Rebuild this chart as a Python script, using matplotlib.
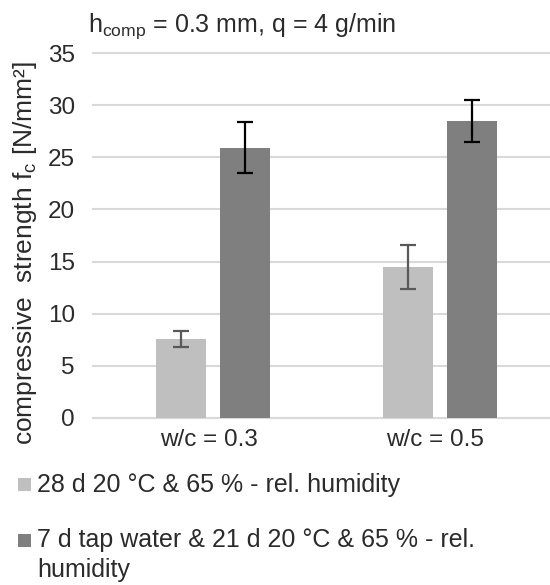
import matplotlib
matplotlib.use("Agg")
import matplotlib.pyplot as plt
from matplotlib.patches import Rectangle
import numpy as np

plt.rcParams['font.family'] = ['Liberation Sans', 'DejaVu Sans']
plt.rcParams['mathtext.fontset'] = 'custom'
plt.rcParams['mathtext.rm'] = 'Liberation Sans'
plt.rcParams['mathtext.it'] = 'Liberation Sans:italic'

categories = ['w/c = 0.3', 'w/c = 0.5']
series_labels = ['28 d 20 °C & 65 % - rel. humidity',
                 '7 d tap water & 21 d 20 °C & 65 % - rel.\nhumidity']
values_28d = [7.55, 14.45]
err_28d = [0.75, 2.1]
values_7d = [25.9, 28.5]
err_7d = [2.45, 2.0]
yticks = [0, 5, 10, 15, 20, 25, 30, 35]

colors = ['#BFBFBF', '#7F7F7F']
err_colors = ['#595959', '#000000']
text_color = '#2b2b2b'
FS = 18

W, H = 550, 585
fig = plt.figure(figsize=(W / 100, H / 100), dpi=100)
ax = fig.add_axes([93 / W, 1 - 418 / H, 1 - 93 / W, (418 - 53) / H])

x = np.arange(len(categories))
bw = 0.22
off = 0.141
for vals, errs, c, ec, dx in [(values_28d, err_28d, colors[0], err_colors[0], -off),
                               (values_7d, err_7d, colors[1], err_colors[1], off)]:
    ax.bar(x + dx, vals, width=bw, color=c, zorder=2)
    ax.errorbar(x + dx, vals, yerr=errs, fmt='none', ecolor=ec, elinewidth=1.6,
                capsize=5.5, capthick=1.6, zorder=3)

ax.set_xlim(-0.529, 1.485)
ax.set_ylim(0, 35)
ax.set_yticks(yticks)
ax.set_xticks(x - 0.02)
ax.set_xticklabels(categories)
for s in ax.spines.values():
    s.set_visible(False)
ax.yaxis.grid(True, color='#D9D9D9', linewidth=1.5, zorder=0)
for gl in ax.get_ygridlines():
    gl.set_clip_on(False)
ax.set_axisbelow(True)
ax.axhline(0, color='#D9D9D9', linewidth=1.5, zorder=1, clip_on=False)
ax.tick_params(axis='both', length=0, labelsize=17.5, colors=text_color)
ax.tick_params(axis='y', pad=13)
ax.tick_params(axis='x', pad=8)

fig.text(25 / W, 1 - 253 / H, 'compressive  strength f$_{\\rm c}$ [N/mm²]',
         rotation=90, ha='center', va='center', fontsize=19, color=text_color)
fig.text(88 / W, 1 - 32 / H, 'h$_{\\rm comp}$ = 0.3 mm, q = 4 g/min',
         ha='left', va='baseline', fontsize=FS, color=text_color)

# legend
marker_y = [484, 540]
base_y = [492, 547]
for lab, c, my, by in zip(series_labels, colors, marker_y, base_y):
    fig.patches.append(Rectangle((18 / W, 1 - (my + 6.5) / H), 13 / W, 13 / H,
                                 transform=fig.transFigure, facecolor=c, edgecolor='none'))
    for i, line in enumerate(lab.split('\n')):
        fig.text(37 / W, 1 - (by + 30 * i) / H, line, ha='left', va='baseline',
                 fontsize=FS, color=text_color)

fig.savefig('out.png', dpi=100)
